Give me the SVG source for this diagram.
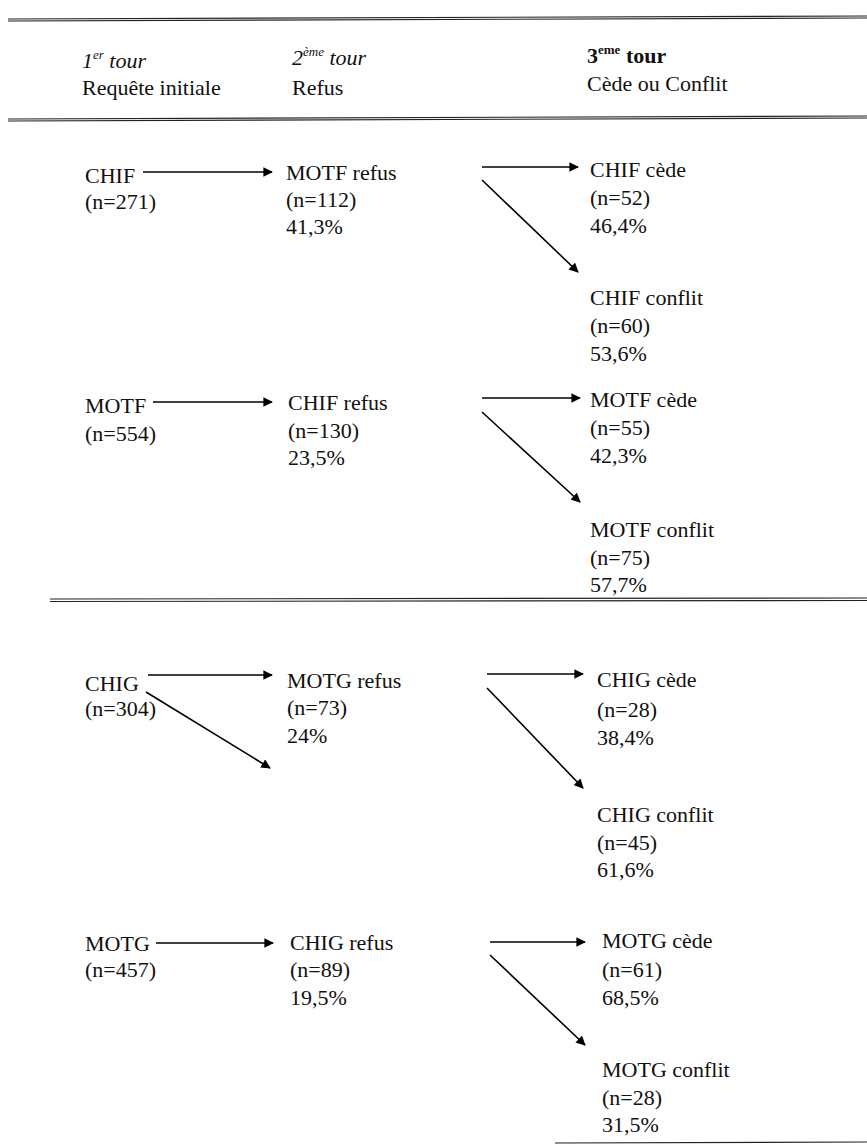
<svg xmlns="http://www.w3.org/2000/svg" width="867" height="1148" viewBox="0 0 867 1148">
<style>
text{font-family:"Times New Roman",Times,"Liberation Serif",Tinos,"Noto Serif","DejaVu Serif",FreeSerif,serif;font-size:22px;fill:#111}
.it{font-style:italic}
.b{font-weight:bold}
.sup{font-size:13px}
.rule{stroke:#222;stroke-width:1.2;fill:none}
.c{stroke:#000;stroke-width:1.6;fill:none;marker-end:url(#ah)}
</style>
<defs>
<marker id="ah" viewBox="0 0 10 10" refX="9" refY="5" markerWidth="6" markerHeight="6" markerUnits="strokeWidth" orient="auto">
<path d="M0,0 L10,5 L0,10 z" fill="#000"/>
</marker>
</defs>
<rect width="867" height="1148" fill="#fff"/>
<g id="rules">
<line class="rule" x1="8" y1="19" x2="867" y2="16"/>
<line class="rule" x1="8" y1="21" x2="867" y2="18"/>
<line class="rule" x1="8" y1="119" x2="867" y2="116"/>
<line class="rule" x1="8" y1="121" x2="867" y2="118"/>
<line class="rule" x1="50" y1="599" x2="867" y2="598"/>
<line class="rule" x1="50" y1="601.5" x2="867" y2="600.5"/>
<line class="rule" x1="555" y1="1143" x2="867" y2="1142"/>
</g>
<g id="header">
<text x="82" y="68" class="it">1<tspan class="sup" dy="-9">er</tspan><tspan dy="9"> tour</tspan></text>
<text x="82" y="95">Requête initiale</text>
<text x="292" y="65" class="it">2<tspan class="sup" dy="-9">ème</tspan><tspan dy="9"> tour</tspan></text>
<text x="292" y="95">Refus</text>
<text x="587" y="63" class="b">3<tspan class="sup" dy="-9">eme</tspan><tspan dy="9"> tour</tspan></text>
<text x="587" y="91">Cède ou Conflit</text>
</g>
<g id="connectors">
<line class="c" x1="143" y1="172" x2="272" y2="172"/>
<line class="c" x1="482" y1="167" x2="578" y2="167"/>
<line class="c" x1="482" y1="180" x2="578" y2="272"/>
<line class="c" x1="153" y1="402" x2="272" y2="402"/>
<line class="c" x1="482" y1="398" x2="580" y2="398"/>
<line class="c" x1="482" y1="412" x2="580" y2="502"/>
<line class="c" x1="148" y1="675" x2="272" y2="675"/>
<line class="c" x1="146" y1="692" x2="270" y2="768"/>
<line class="c" x1="487" y1="674" x2="583" y2="674"/>
<line class="c" x1="487" y1="688" x2="583" y2="788"/>
<line class="c" x1="156" y1="943" x2="273" y2="943"/>
<line class="c" x1="490" y1="942" x2="585" y2="942"/>
<line class="c" x1="490" y1="955" x2="585" y2="1045"/>
</g>
<g id="n-chif"><text x="85" y="183">CHIF</text><text x="85" y="209">(n=271)</text></g>
<g id="n-motf-refus"><text x="286" y="180">MOTF refus</text><text x="286" y="207">(n=112)</text><text x="286" y="234">41,3%</text></g>
<g id="n-chif-cede"><text x="590" y="177">CHIF cède</text><text x="590" y="205">(n=52)</text><text x="590" y="233">46,4%</text></g>
<g id="n-chif-conflit"><text x="590" y="305">CHIF conflit</text><text x="590" y="333">(n=60)</text><text x="590" y="361">53,6%</text></g>
<g id="n-motf"><text x="85" y="413">MOTF</text><text x="85" y="441">(n=554)</text></g>
<g id="n-chif-refus"><text x="288" y="410">CHIF refus</text><text x="288" y="438">(n=130)</text><text x="288" y="465">23,5%</text></g>
<g id="n-motf-cede"><text x="590" y="407">MOTF cède</text><text x="590" y="435">(n=55)</text><text x="590" y="463">42,3%</text></g>
<g id="n-motf-conflit"><text x="590" y="537">MOTF conflit</text><text x="590" y="565">(n=75)</text><text x="590" y="592">57,7%</text></g>
<g id="n-chig"><text x="85" y="691">CHIG</text><text x="85" y="716">(n=304)</text></g>
<g id="n-motg-refus"><text x="287" y="688">MOTG refus</text><text x="287" y="715">(n=73)</text><text x="287" y="743">24%</text></g>
<g id="n-chig-cede"><text x="597" y="687">CHIG cède</text><text x="597" y="717">(n=28)</text><text x="597" y="745">38,4%</text></g>
<g id="n-chig-conflit"><text x="597" y="822">CHIG conflit</text><text x="597" y="850">(n=45)</text><text x="597" y="877">61,6%</text></g>
<g id="n-motg"><text x="85" y="951">MOTG</text><text x="85" y="977">(n=457)</text></g>
<g id="n-chig-refus"><text x="290" y="950">CHIG refus</text><text x="290" y="977">(n=89)</text><text x="290" y="1005">19,5%</text></g>
<g id="n-motg-cede"><text x="602" y="948">MOTG cède</text><text x="602" y="977">(n=61)</text><text x="602" y="1005">68,5%</text></g>
<g id="n-motg-conflit"><text x="602" y="1077">MOTG conflit</text><text x="602" y="1105">(n=28)</text><text x="602" y="1132">31,5%</text></g>
</svg>
